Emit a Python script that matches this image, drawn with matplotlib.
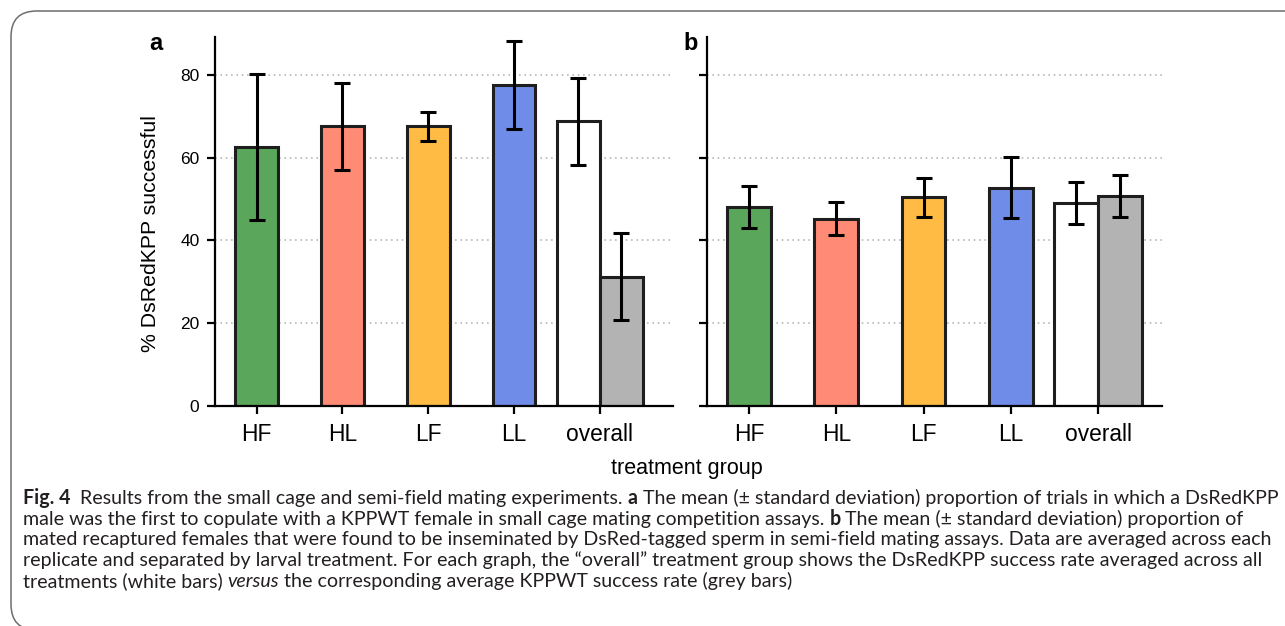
import matplotlib
matplotlib.use("Agg")
import matplotlib.pyplot as plt
from matplotlib.patches import FancyBboxPatch

W, H = 1285, 626
DPI = 100

# ---------------- data ----------------
categories = ["HF", "HL", "LF", "LL", "overall"]
bar_colors = ["#5AA65A", "#FF8A76", "#FFBB44", "#6F8DE8"]
overall_colors = ["#FFFFFF", "#B3B3B3"]   # DsRedKPP (white), KPPWT (grey)

a_means = [62.5, 67.5, 67.5, 77.5]
a_sd = [17.7, 10.6, 3.5, 10.7]
a_overall_means = [68.7, 31.2]
a_overall_sd = [10.6, 10.5]

b_means = [48.1, 45.2, 50.4, 52.7]
b_sd = [5.1, 4.0, 4.75, 7.4]
b_overall_means = [49.1, 50.7]
b_overall_sd = [5.1, 5.1]

y_ticks = [0, 20, 40, 60, 80]
ylabel = "% DsRedKPP successful"
xlabel = "treatment group"

# ---------------- helpers ----------------
def fx(x):
    return x / W

def fy(y):
    return 1 - y / H

CHART_FONT = ["Liberation Sans", "DejaVu Sans"]
CAP_FONT = ["Lato", "DejaVu Sans"]

fig = plt.figure(figsize=(W / DPI, H / DPI), dpi=DPI)
fig.patch.set_facecolor("white")

# border frame (rounded, cut at the right/bottom edge)
frame = FancyBboxPatch((fx(11), fy(630)), fx(1320 - 11), (630 - 11) / H,
                       boxstyle="round,pad=0,rounding_size=0.02",
                       transform=fig.transFigure, fill=False,
                       edgecolor="#6E6E6E", linewidth=1.1,
                       mutation_aspect=W / H, zorder=0)
fig.patches.append(frame)

EDGE = "#1E1E1E"


def make_panel(rect, means, sds, ov_means, ov_sd, xlim, show_labels):
    ax = fig.add_axes(rect)
    xs = list(range(len(means)))
    ax.bar(xs, means, width=0.5, color=bar_colors, edgecolor=EDGE,
           linewidth=2.2, zorder=2)
    ov_x = [len(means) - 0.25, len(means) + 0.25]
    ax.bar(ov_x, ov_means, width=0.5, color=overall_colors, edgecolor=EDGE,
           linewidth=2.2, zorder=2)
    ax.errorbar(xs + ov_x, list(means) + list(ov_means),
                yerr=list(sds) + list(ov_sd), fmt="none", ecolor="black",
                elinewidth=2.2, capsize=6, capthick=2.2, zorder=3)
    ax.set_xlim(*xlim)
    ax.set_ylim(0, 89.1)
    ax.set_yticks(y_ticks)
    ax.set_xticks(range(len(categories)))
    ax.set_xticklabels(categories, fontsize=16.4, family=CHART_FONT)
    if show_labels:
        ax.set_yticklabels([str(t) for t in y_ticks], fontsize=12.5,
                           family=CHART_FONT)
    else:
        ax.set_yticklabels([])
    ax.yaxis.grid(True, linestyle=(0, (1, 2.2)), color="#B8B8B8",
                  linewidth=1.2)
    ax.set_axisbelow(True)
    for s in ["top", "right"]:
        ax.spines[s].set_visible(False)
    for s in ["left", "bottom"]:
        ax.spines[s].set_linewidth(1.6)
        ax.spines[s].set_color("black")
    ax.tick_params(axis="both", direction="out", length=6, width=1.6,
                   color="black")
    ax.tick_params(axis="y", pad=5)
    ax.tick_params(axis="x", pad=6)
    return ax


ax_a = make_panel([fx(214.7), fy(406), fx(672.7 - 214.7), (406 - 37) / H],
                  a_means, a_sd, a_overall_means, a_overall_sd,
                  (-0.49, 4.85), True)
ax_b = make_panel([fx(706.7), fy(406), fx(1161.7 - 706.7), (406 - 37) / H],
                  b_means, b_sd, b_overall_means, b_overall_sd,
                  (-0.485, 4.73), False)

# panel letters
fig.text(fx(155.5), fy(50), "a", fontsize=17, fontweight="bold",
         family=CHART_FONT, ha="center", va="baseline")
fig.text(fx(690.5), fy(50), "b", fontsize=17, fontweight="bold",
         family=CHART_FONT, ha="center", va="baseline")

# axis titles
fig.text(fx(150.5), fy(233.5), ylabel, rotation=90, fontsize=15.3,
         family=CHART_FONT, ha="center", va="center")
fig.text(fx(687), fy(474), xlabel, fontsize=15.5, family=CHART_FONT,
         ha="center", va="baseline")

# ---------------- caption ----------------
caption_lines = [
    [("Fig. 4", "bold", "normal"),
     ("  Results from the small cage and semi-field mating experiments. ", "normal", "normal"),
     ("a", "bold", "normal"),
     (" The mean (\u00b1 standard deviation) proportion of trials in which a DsRedKPP", "normal", "normal")],
    [("male was the first to copulate with a KPPWT female in small cage mating competition assays. ", "normal", "normal"),
     ("b", "bold", "normal"),
     (" The mean (\u00b1 standard deviation) proportion of", "normal", "normal")],
    [("mated recaptured females that were found to be inseminated by DsRed-tagged sperm in semi-field mating assays. Data are averaged across each", "normal", "normal")],
    [("replicate and separated by larval treatment. For each graph, the \u201coverall\u201d treatment group shows the DsRedKPP success rate averaged across all", "normal", "normal")],
    [("treatments (white bars) ", "normal", "normal"),
     ("versus", "normal", "italic"),
     (" the corresponding average KPPWT success rate (grey bars)", "normal", "normal")],
]
baselines = [504, 525, 545.5, 566, 587]
x_start = 23
target_width_line1 = 1269 - x_start

renderer = fig.canvas.get_renderer()


def run_width(s, size, weight, style):
    t1 = fig.text(0, 0, s + "|", fontsize=size, fontweight=weight,
                  fontstyle=style, family=CAP_FONT)
    t2 = fig.text(0, 0, "|", fontsize=size, fontweight=weight,
                  fontstyle=style, family=CAP_FONT)
    w = t1.get_window_extent(renderer).width - t2.get_window_extent(renderer).width
    t1.remove()
    t2.remove()
    return w


def line_width(runs, size):
    return sum(run_width(s, size, w, st) for s, w, st in runs)


ref_size = 12.0
w_ref = line_width(caption_lines[0], ref_size)
cap_size = ref_size * target_width_line1 / w_ref

for runs, base in zip(caption_lines, baselines):
    x = x_start
    for s, weight, style in runs:
        fig.text(fx(x), fy(base), s, fontsize=cap_size, fontweight=weight,
                 fontstyle=style, family=CAP_FONT, ha="left", va="baseline",
                 color="#231F20")
        x += run_width(s, cap_size, weight, style)

fig.savefig("out.png", dpi=DPI, facecolor="white")
